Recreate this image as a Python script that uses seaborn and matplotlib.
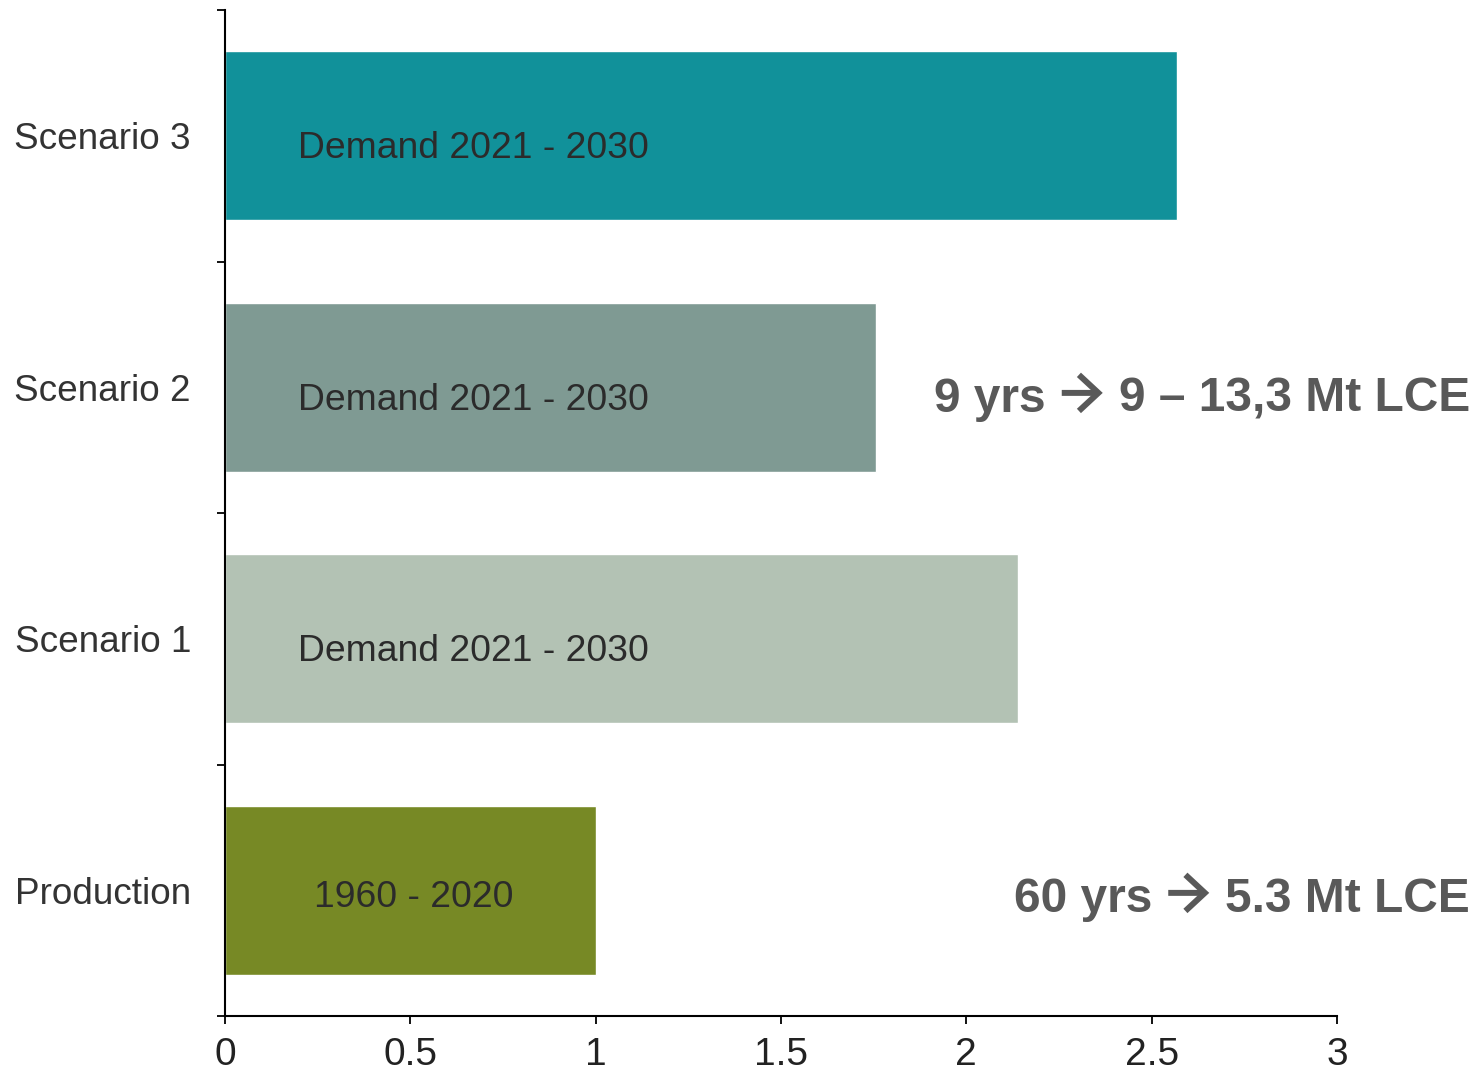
import matplotlib
matplotlib.use("Agg")
import matplotlib.pyplot as plt
from matplotlib.patches import FancyArrowPatch, ArrowStyle
from matplotlib.transforms import IdentityTransform
import seaborn as sns
import pandas as pd

# Cumulative lithium quantities (scaled), top to bottom
categories = ["Scenario 3", "Scenario 2", "Scenario 1", "Production"]
values = [2.568, 1.756, 2.14, 1.0]
bar_colors = ["#11919A", "#7F9A93", "#B3C2B4", "#778925"]
bar_labels = ["Demand 2021 - 2030", "Demand 2021 - 2030", "Demand 2021 - 2030", "1960 - 2020"]
x_ticks = [0, 0.5, 1, 1.5, 2, 2.5, 3]
x_ticklabels = ["0", "0.5", "1", "1.5", "2", "2.5", "3"]
# period -> amount notes next to the bars
note_rows = ["Scenario 2", "Production"]
note_periods = ["9 yrs", "60 yrs"]
note_amounts = ["9 \u2013 13,3 Mt LCE", "5.3 Mt LCE"]

sns.set_theme(style="white")
plt.rcParams["font.family"] = ["Liberation Sans", "DejaVu Sans"]

df = pd.DataFrame({"category": categories, "value": values})

W, H = 1478, 1070
fig = plt.figure(figsize=(W / 100, H / 100), dpi=100)
ax = fig.add_axes([225 / W, 1 - 1016 / H, (1337 - 225) / W, (1016 - 10) / H])

sns.barplot(data=df, x="value", y="category", hue="category", palette=bar_colors,
            orient="h", width=0.67, legend=False, saturation=1, ax=ax)

ax.set_xlim(0, 3)
ax.set_ylim(3.5, -0.5)
ax.set_xlabel("")
ax.set_ylabel("")
ax.grid(False)

for side in ["top", "right"]:
    ax.spines[side].set_visible(False)
for side in ["left", "bottom"]:
    ax.spines[side].set_color("black")
    ax.spines[side].set_linewidth(1.5)

# X axis
ax.set_xticks(x_ticks)
ax.set_xticklabels(x_ticklabels, fontsize=28, color="#222222")
ax.tick_params(axis="x", direction="out", length=6, width=1.3, color="black", pad=9,
               bottom=True)

# Y axis: names at the bar centres, tick marks on the category boundaries
ax.set_yticks(range(len(categories)))
ax.set_yticklabels(categories, fontsize=26.6, color="#333333")
ax.tick_params(axis="y", which="major", length=0, pad=24.5)
ax.set_yticks([i - 0.5 for i in range(len(categories) + 1)], minor=True)
ax.tick_params(axis="y", which="minor", direction="out", length=6, width=1.3,
               color="black", left=True)

# Labels inside the bars
label_x = [0.197, 0.197, 0.197, 0.24]
label_dy = [0.089, 0.089, 0.089, 0.066]
for i, txt in enumerate(bar_labels):
    ax.text(label_x[i], i + label_dy[i], txt, fontsize=26.8, color="#2b2b2b",
            ha="left", va="baseline")

# Notes on the right: "<period>  ->  <amount>", right-aligned at the figure edge
note_color = "#595959"
note_dy = [0.098, 0.086]
fig.canvas.draw()
renderer = fig.canvas.get_renderer()
px = IdentityTransform()
gap, arrow_len = 16, 41
for k, cat in enumerate(note_rows):
    i = categories.index(cat)
    base_y = ax.transData.transform((0, i + note_dy[k]))[1]
    t_amount = fig.text(1470, base_y, note_amounts[k], transform=px, fontsize=34.5,
                        fontweight="bold", color=note_color, ha="right", va="baseline")
    left_amount = t_amount.get_window_extent(renderer).x0
    x_tip = left_amount - gap
    x_tail = x_tip - arrow_len
    y_mid = base_y + 19
    arrow = FancyArrowPatch((x_tail, y_mid), (x_tip, y_mid), transform=px,
                            arrowstyle=ArrowStyle("->", head_length=14, head_width=13),
                            mutation_scale=1, lw=4.3, color=note_color,
                            shrinkA=0, shrinkB=0, joinstyle="miter", capstyle="butt")
    fig.add_artist(arrow)
    fig.text(x_tail - gap, base_y, note_periods[k], transform=px, fontsize=34.5,
             fontweight="bold", color=note_color, ha="right", va="baseline")

fig.savefig("out.png", dpi=100)
